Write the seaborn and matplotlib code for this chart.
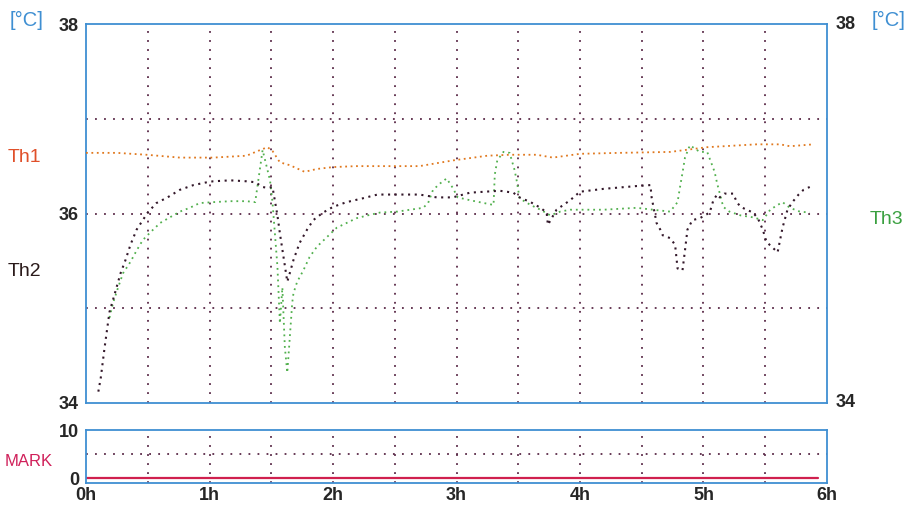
import pandas as pd
import numpy as np
import matplotlib
matplotlib.use("Agg")
import matplotlib.pyplot as plt
import seaborn as sns

# --- data (hours, deg C) ---
th1_t = [0.00, 0.25, 0.49, 0.76, 1.03, 1.30, 1.41, 1.47, 1.51, 1.57, 1.65, 1.77, 1.87,
         2.00, 2.19, 2.38, 2.70, 2.97, 3.25, 3.43, 3.65, 3.78, 4.00, 4.32, 4.73, 5.03,
         5.43, 5.62, 5.70, 5.89]
th1_v = [36.64, 36.64, 36.62, 36.59, 36.59, 36.61, 36.67, 36.70, 36.66, 36.54, 36.51, 36.44, 36.47,
         36.49, 36.50, 36.50, 36.50, 36.56, 36.61, 36.62, 36.62, 36.59, 36.63, 36.64, 36.65, 36.70,
         36.73, 36.73, 36.71, 36.73]

th2_t = [0.10, 0.12, 0.15, 0.19, 0.23, 0.28, 0.32, 0.36, 0.41, 0.46, 0.50, 0.57, 0.66, 0.76,
         0.87, 0.98, 1.03, 1.17, 1.30, 1.37, 1.43, 1.47, 1.51, 1.55, 1.57, 1.63, 1.65, 1.68,
         1.73, 1.79, 1.84, 1.92, 2.00, 2.11, 2.24, 2.36, 2.52, 2.70, 2.84, 2.97, 3.11, 3.35,
         3.46, 3.51, 3.60, 3.68, 3.73, 3.74, 3.81, 3.92, 4.00, 4.19, 4.46, 4.57, 4.58, 4.62,
         4.65, 4.67, 4.73, 4.77, 4.79, 4.83, 4.85, 4.87, 4.91, 4.97, 5.05, 5.08, 5.11, 5.13,
         5.17, 5.24, 5.27, 5.30, 5.35, 5.40, 5.44, 5.48, 5.51, 5.56, 5.60, 5.64, 5.68, 5.72,
         5.77, 5.81, 5.86]
th2_v = [34.12, 34.27, 34.58, 34.96, 35.14, 35.37, 35.51, 35.67, 35.83, 35.93, 36.01, 36.11, 36.17, 36.25,
         36.30, 36.33, 36.34, 36.35, 36.34, 36.33, 36.28, 36.27, 36.28, 35.98, 35.79, 35.28, 35.37, 35.51,
         35.69, 35.83, 35.93, 36.01, 36.07, 36.12, 36.16, 36.20, 36.20, 36.20, 36.17, 36.17, 36.22, 36.24,
         36.22, 36.17, 36.12, 36.06, 36.01, 35.88, 36.04, 36.14, 36.23, 36.26, 36.29, 36.30, 36.17, 35.90,
         35.83, 35.77, 35.74, 35.67, 35.42, 35.40, 35.61, 35.83, 35.93, 35.95, 36.01, 36.14, 36.20, 36.17,
         36.21, 36.21, 36.12, 36.07, 36.04, 36.01, 35.95, 35.83, 35.70, 35.64, 35.59, 35.85, 36.04, 36.12,
         36.20, 36.25, 36.28]

th3_t = [0.19, 0.22, 0.26, 0.30, 0.36, 0.41, 0.46, 0.52, 0.60, 0.68, 0.76, 0.84, 0.92, 1.03,
         1.17, 1.30, 1.37, 1.43, 1.49, 1.51, 1.55, 1.57, 1.59, 1.61, 1.63, 1.67, 1.68, 1.71,
         1.76, 1.81, 1.87, 1.95, 2.03, 2.11, 2.19, 2.28, 2.38, 2.52, 2.73, 2.77, 2.81, 2.87,
         2.92, 2.97, 3.01, 3.11, 3.30, 3.31, 3.33, 3.38, 3.43, 3.47, 3.49, 3.51, 3.60, 3.68,
         3.76, 3.84, 3.92, 4.19, 4.46, 4.59, 4.73, 4.79, 4.81, 4.83, 4.85, 4.89, 4.97, 5.03,
         5.09, 5.11, 5.13, 5.16, 5.21, 5.30, 5.40, 5.48, 5.54, 5.60, 5.64, 5.70, 5.78, 5.86]
th3_v = [34.90, 35.06, 35.22, 35.37, 35.49, 35.61, 35.72, 35.80, 35.90, 35.96, 36.02, 36.06, 36.11, 36.12,
         36.13, 36.13, 36.12, 36.67, 36.35, 36.12, 35.44, 34.84, 35.22, 34.59, 34.32, 35.06, 35.16, 35.28,
         35.40, 35.54, 35.65, 35.75, 35.85, 35.90, 35.95, 35.98, 36.01, 36.02, 36.06, 36.11, 36.25, 36.32,
         36.37, 36.27, 36.17, 36.14, 36.09, 36.41, 36.56, 36.65, 36.64, 36.46, 36.33, 36.16, 36.09, 36.04,
         35.98, 36.02, 36.04, 36.04, 36.06, 36.04, 36.02, 36.12, 36.28, 36.43, 36.59, 36.72, 36.65, 36.65,
         36.44, 36.32, 36.22, 36.07, 36.02, 35.98, 35.96, 35.93, 36.04, 36.09, 36.12, 36.06, 36.02, 36.01]

mark_t = [0.0, 5.93]
mark_v = [0, 0]

hour_labels = ["0h", "1h", "2h", "3h", "4h", "5h", "6h"]
temp_ticks = [34, 36, 38]
temp_grid = [35, 36, 37]
time_grid = [0.5, 1.0, 1.5, 2.0, 2.5, 3.0, 3.5, 4.0, 4.5, 5.0, 5.5]

frame_blue = "#3f8fd2"
grid_col = "#5a2a48"

sns.set_style("white")
plt.rcParams["font.family"] = ["Liberation Sans", "DejaVu Sans"]

fig = plt.figure(figsize=(9.13, 5.12), dpi=100)
ax = fig.add_axes([0.0942, 0.2129, 0.8116, 0.7402])
axm = fig.add_axes([0.0942, 0.0566, 0.8116, 0.1035])

dot = (0, (1, 4))
for a in (ax, axm):
    for x in time_grid:
        a.axvline(x, color=grid_col, lw=1.3, ls=dot, zorder=1)
for y in temp_grid:
    ax.axhline(y, color=grid_col, lw=1.3, ls=dot, zorder=1)
axm.axhline(5, color=grid_col, lw=1.3, ls=dot, zorder=1)

df1 = pd.DataFrame({"t": th1_t, "v": th1_v})
df2 = pd.DataFrame({"t": th2_t, "v": th2_v})
df3 = pd.DataFrame({"t": th3_t, "v": th3_v})
sns.lineplot(data=df1, x="t", y="v", ax=ax, color="#e0781e", lw=1.3,
             linestyle=(0, (1, 2)), estimator=None, zorder=3)
sns.lineplot(data=df2, x="t", y="v", ax=ax, color="#33182a", lw=1.5,
             linestyle=(0, (1, 2.2)), estimator=None, zorder=4)
sns.lineplot(data=df3, x="t", y="v", ax=ax, color="#52b04e", lw=1.3,
             linestyle=(0, (1, 2.2)), estimator=None, zorder=3)

dfm = pd.DataFrame({"t": mark_t, "v": mark_v})
sns.lineplot(data=dfm, x="t", y="v", ax=axm, color="#d0204e", lw=1.6, estimator=None)

ax.set_xlim(0, 6)
ax.set_ylim(34, 38)
axm.set_xlim(0, 6)
axm.set_ylim(-1, 10)

for a in (ax, axm):
    a.set_xlabel("")
    a.set_ylabel("")
    for s in a.spines.values():
        s.set_color(frame_blue)
        s.set_linewidth(1.3)
    a.tick_params(length=0)

ax.set_xticks([])
ax.set_yticks(temp_ticks)
ax.set_yticklabels([str(v) for v in temp_ticks], fontsize=13, fontweight="bold")
ax.tick_params(axis="y", pad=5)

# right side labels 38 / 34
ax.text(1.012, 1.0, "38", transform=ax.transAxes, fontsize=13, fontweight="bold",
        ha="left", va="center")
ax.text(1.012, 0.0, "34", transform=ax.transAxes, fontsize=13, fontweight="bold",
        ha="left", va="center")

axm.set_yticks([0, 10])
axm.set_yticklabels(["0", "10"], fontsize=13, fontweight="bold")
axm.set_xticks(range(7))
axm.set_xticklabels(hour_labels, fontsize=13, fontweight="bold")
axm.tick_params(axis="x", pad=3)
axm.tick_params(axis="y", pad=5)

fig.text(10 / 913, 1 - 20 / 512, "[°C]", color=frame_blue, fontsize=14.5, va="center", ha="left")
fig.text(872 / 913, 1 - 20 / 512, "[°C]", color=frame_blue, fontsize=14.5, va="center", ha="left")
fig.text(8 / 913, 1 - 158 / 512, "Th1", color="#e0502a", fontsize=14, va="center", ha="left")
fig.text(8 / 913, 1 - 272 / 512, "Th2", color="#2a1a1a", fontsize=14, va="center", ha="left")
fig.text(870 / 913, 1 - 220 / 512, "Th3", color="#3aa040", fontsize=14, va="center", ha="left")
fig.text(5 / 913, 1 - 462 / 512, "MARK", color="#d0205a", fontsize=12, va="center", ha="left")

fig.savefig("out.png", dpi=100)
